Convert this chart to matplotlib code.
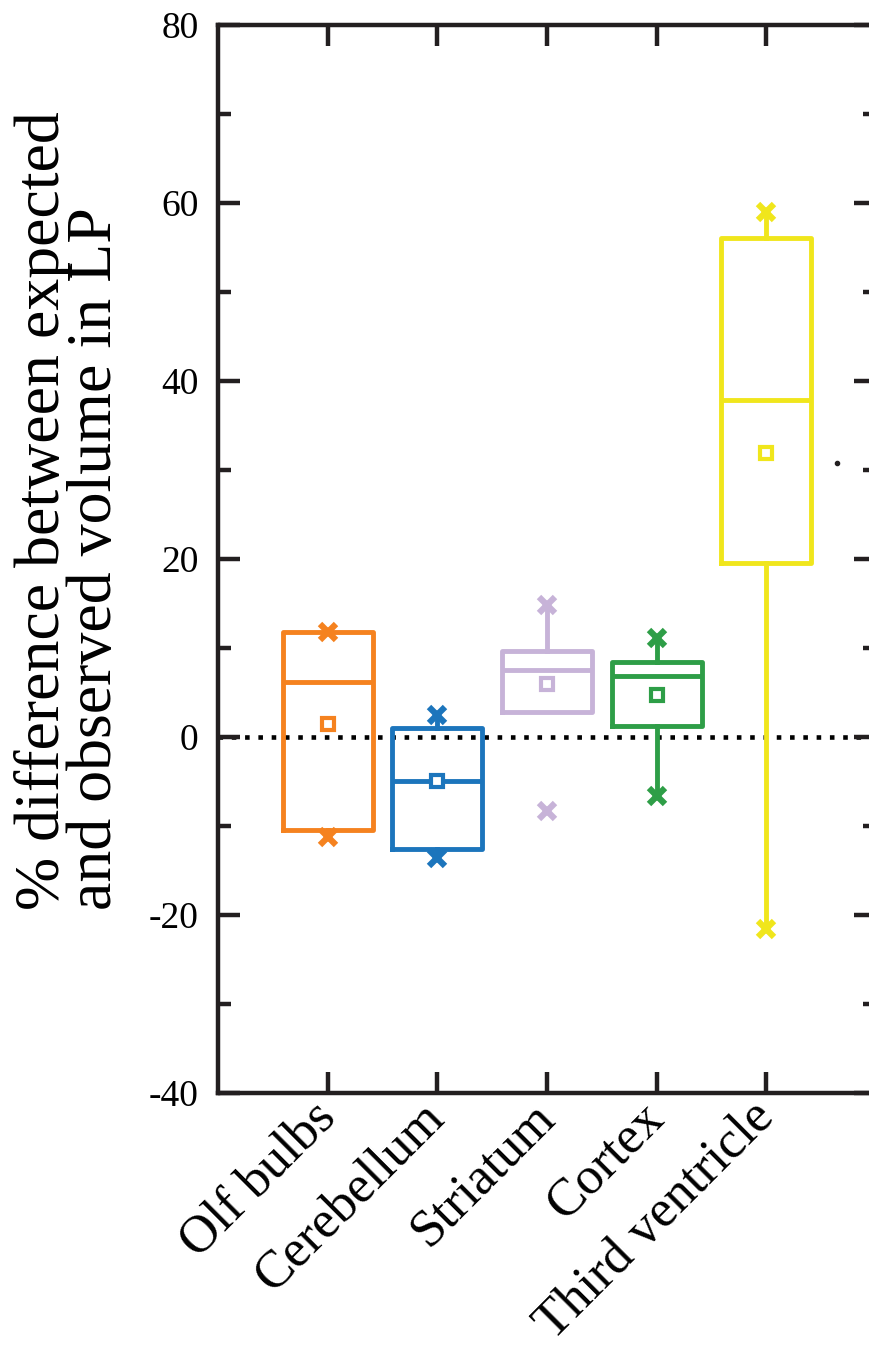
import matplotlib
matplotlib.use('Agg')
import matplotlib.pyplot as plt
from matplotlib.ticker import MultipleLocator

plt.rcParams['font.family'] = ['Liberation Serif', 'DejaVu Serif']
plt.rcParams['axes.unicode_minus'] = False

# === Data ===
categories = ['Olf bulbs', 'Cerebellum', 'Striatum', 'Cortex', 'Third ventricle']
colors = ['#F5821F', '#1C75BC', '#C7B3D8', '#2E9E47', '#F0E61C']

q1 = [-10.4, -12.6, 2.8, 1.2, 19.5]
q3 = [11.8, 1.0, 9.7, 8.4, 56.1]
medians = [6.2, -5.0, 7.5, 6.8, 37.9]
means = [1.5, -5.0, 5.9, 4.7, 31.9]
whisker_lo = [-11.2, -13.6, 2.8, -6.6, -21.6]
whisker_hi = [11.8, 2.5, 14.8, 11.1, 59.0]
data_min = [-11.2, -13.6, -8.3, -6.6, -21.6]
data_max = [11.8, 2.5, 14.8, 11.1, 59.0]

stray_x = [5.64]
stray_y = [30.8]

positions = list(range(1, len(categories) + 1))

# === Figure ===
fig = plt.figure(figsize=(8.7, 13.53), dpi=100)
ax = fig.add_axes([0.2506, 0.1922, 0.7563, 0.7893])

box_lw = 3.5
for i, pos in enumerate(positions):
    stats = [{
        'med': medians[i], 'q1': q1[i], 'q3': q3[i],
        'whislo': whisker_lo[i], 'whishi': whisker_hi[i],
        'mean': means[i], 'fliers': [],
    }]
    ax.bxp(stats, positions=[pos], widths=0.82, showcaps=False, showfliers=False,
           showmeans=False, patch_artist=False,
           boxprops=dict(color=colors[i], linewidth=box_lw),
           whiskerprops=dict(color=colors[i], linewidth=box_lw),
           medianprops=dict(color=colors[i], linewidth=box_lw))
    # mean marker
    ax.plot(pos, means[i], marker='s', markersize=8.5, markerfacecolor='white',
            markeredgecolor=colors[i], markeredgewidth=3, zorder=5)
    # min / max markers
    ax.plot([pos, pos], [data_min[i], data_max[i]], linestyle='none', marker='x',
            markersize=11, markeredgewidth=4.5, color=colors[i], zorder=5)

ax.plot(stray_x, stray_y, linestyle='none', marker='o', markersize=3, color='#231F20')

# zero reference line
ax.axhline(0, color='black', linewidth=3.3, linestyle=(0, (1, 1.9)),
           dash_capstyle='butt', zorder=1)

# === Axes styling ===
ax.set_xlim(0, 6)
ax.set_ylim(-40, 80)
ax.yaxis.set_major_locator(MultipleLocator(20))
ax.yaxis.set_minor_locator(MultipleLocator(10))
ax.set_xticks(positions)
ax.set_xticklabels(categories, rotation=45, ha='right', va='center',
                   rotation_mode='anchor', fontsize=38)

for spine in ax.spines.values():
    spine.set_linewidth(3.2)
    spine.set_color('#231F20')

ax.tick_params(axis='both', which='both', direction='in', top=True, right=True,
               color='#231F20', width=3.2)
ax.tick_params(axis='x', which='major', length=15, pad=12)
ax.tick_params(axis='y', which='major', length=16, labelsize=27, pad=14)
ax.tick_params(axis='y', which='minor', length=9.5)

ax.set_ylabel('% difference between expected\nand observed volume in LP',
              fontsize=46, linespacing=0.85, multialignment='left')
ax.yaxis.set_label_coords(-0.142, 0.545)

plt.savefig('out.png', dpi=100)
